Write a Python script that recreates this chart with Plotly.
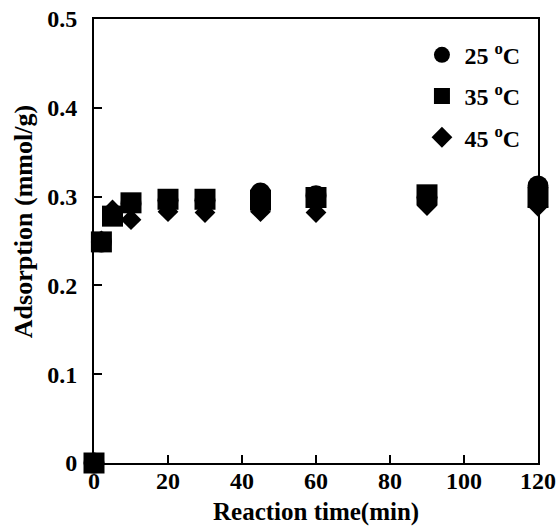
import plotly.graph_objects as go

time_min = [0, 2, 5, 10, 20, 30, 45, 60, 90, 120]
ads_25 = [0, 0.249, 0.279, 0.292, 0.296, 0.296, 0.304, 0.301, 0.299, 0.312]
ads_35 = [0, 0.249, 0.278, 0.293, 0.297, 0.297, 0.296, 0.299, 0.302, 0.299]
ads_45 = [0, 0.250, 0.285, 0.274, 0.283, 0.282, 0.283, 0.282, 0.290, 0.289]
series_names = ["25 <sup>o</sup>C", "35 <sup>o</sup>C", "45 <sup>o</sup>C"]
x_ticks = [0, 20, 40, 60, 80, 100, 120]
y_ticks = [0, 0.1, 0.2, 0.3, 0.4, 0.5]
y_tick_text = ["0", "0.1", "0.2", "0.3", "0.4", "0.5"]

FONT = "Liberation Serif"

fig = go.Figure()
styles = [("circle", 21), ("square", 21), ("diamond", 16)]
for i, (vals, name, (sym, sz)) in enumerate(zip([ads_25, ads_35, ads_45], series_names, styles)):
    fig.add_trace(go.Scatter(
        x=time_min, y=vals, mode="markers", name=name,
        legendgroup=f"g{i}",
        marker=dict(symbol=sym, size=sz, color="black", line=dict(width=0)),
        cliponaxis=False,
    ))

axis_common = dict(
    showline=True, linecolor="black", linewidth=2, mirror=True,
    ticks="inside", ticklen=8, tickwidth=2, tickcolor="black",
    showgrid=False, zeroline=False, automargin=False,
    tickfont=dict(family=FONT, size=24, color="black", weight="bold"),
)

fig.update_xaxes(range=[0, 120], tickvals=x_ticks, ticktext=[str(v) for v in x_ticks],
                 ticklabelstandoff=-5, **axis_common)
fig.update_yaxes(range=[0, 0.5], tickvals=y_ticks, ticktext=y_tick_text,
                 ticklabelstandoff=10, **axis_common)

fig.add_annotation(text="<b>Reaction time(min)</b>", xref="paper", yref="paper",
                   x=0.5, y=-0.11, showarrow=False, xanchor="center", yanchor="middle",
                   font=dict(family=FONT, size=25, color="black"))
fig.add_annotation(text="<b>Adsorption (mmol/g)</b>", xref="paper", yref="paper",
                   x=-0.157, y=0.543, showarrow=False, textangle=-90,
                   xanchor="center", yanchor="middle",
                   font=dict(family=FONT, size=26, color="black"))

fig.update_layout(
    width=559, height=528,
    margin=dict(l=94, r=21, t=19, b=65, autoexpand=False),
    plot_bgcolor="white", paper_bgcolor="white",
    showlegend=True,
    legend=dict(x=0.733, y=0.969, xanchor="left", yanchor="top", itemwidth=35,
                bgcolor="rgba(0,0,0,0)", tracegroupgap=7,
                font=dict(family=FONT, size=24, color="black", weight="bold")),
)

fig.write_html("out.html", config={"displayModeBar": False},
               post_script="document.body.style.margin='0';document.body.style.padding='0';")
